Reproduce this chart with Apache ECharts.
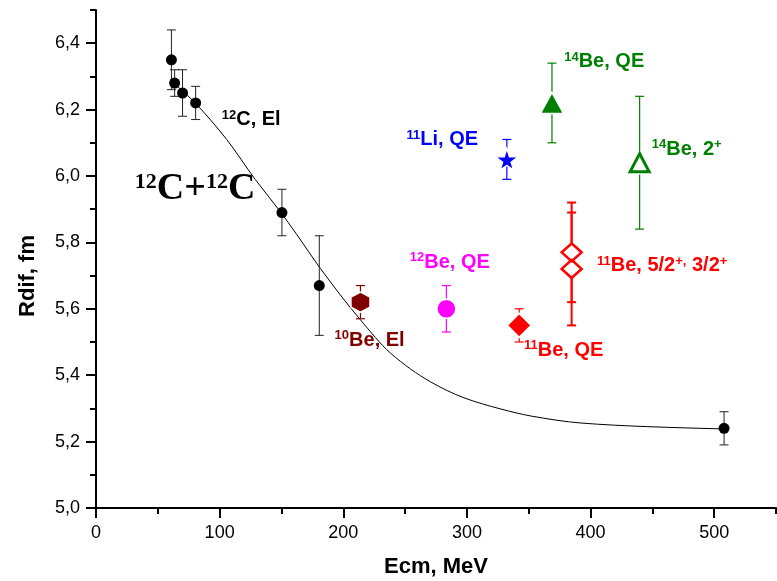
<!DOCTYPE html>
<html>
<head>
<meta charset="utf-8">
<script src="https://cdn.jsdelivr.net/npm/echarts@6/dist/echarts.min.js"></script>
<style>
  html, body { margin: 0; padding: 0; background: #fff; }
  #main { width: 777px; height: 581px; }
</style>
</head>
<body>
<div id="main"></div>
<script>
// tick labels
var xTicks = [0, 100, 200, 300, 400, 500];
var xMinor = [50, 150, 250, 350, 450, 550];
var yTicks = [5.0, 5.2, 5.4, 5.6, 5.8, 6.0, 6.2, 6.4];
var yMinor = [5.1, 5.3, 5.5, 5.7, 5.9, 6.1, 6.3, 6.5];

// 12C + 12C elastic (black points)
var c12Ecm = [61, 63.6, 70, 80.6, 150.4, 180.6, 508];
var c12Rdif = [6.35, 6.28, 6.25, 6.22, 5.89, 5.67, 5.24];
var c12Err = [0.09, 0.04, 0.07, 0.05, 0.07, 0.15, 0.05];

// fit curve
var fitEcm = [60, 78.6, 105.7, 128.7, 149, 162.5, 181.4, 213.8, 238.1, 270.6, 297.6, 327.6, 351.9, 392.2, 446.3, 508];
var fitRdif = [6.29, 6.226, 6.110, 5.990, 5.893, 5.823, 5.722, 5.567, 5.467, 5.380, 5.332, 5.298, 5.277, 5.256, 5.245, 5.238];

// other nuclei
var be10Ecm = [213.9], be10Rdif = [5.62], be10Err = [0.05];
var be12Ecm = [283.4], be12Rdif = [5.60], be12Err = [0.07];
var be11Ecm = [342.3], be11Rdif = [5.55], be11Err = [0.05];
var li11Ecm = [332.3], li11Rdif = [6.05], li11Err = [0.06];
var be14Ecm = [368.8], be14Rdif = [6.22], be14Err = [0.12];
var be14xEcm = [439.7], be14xRdif = [6.04], be14xErr = [0.20];
var be11xEcm = [384.7, 384.7], be11xRdif = [5.77, 5.72], be11xErr = [0.15, 0.17];

var sans = 'Liberation Sans, Arial, sans-serif';
var serif = 'Liberation Serif, Times New Roman, serif';

function pts(xs, ys) { return xs.map(function (x, i) { return [x, ys[i]]; }); }
function errPts(xs, ys, es) { return xs.map(function (x, i) { return [x, ys[i], es[i]]; }); }

// monotone cubic through the pixel positions of the points (like d3 curveMonotoneX)
function monotonePath(p) {
  var n = p.length, t = [], i;
  var h = [], m = [];
  for (i = 0; i < n - 1; i++) {
    h[i] = p[i + 1][0] - p[i][0];
    m[i] = (p[i + 1][1] - p[i][1]) / h[i];
  }
  for (i = 1; i < n - 1; i++) {
    if (m[i - 1] * m[i] <= 0) { t[i] = 0; continue; }
    var w1 = 2 * h[i] + h[i - 1], w2 = h[i] + 2 * h[i - 1];
    t[i] = (w1 + w2) / (w1 / m[i - 1] + w2 / m[i]);
  }
  t[0] = m[0];
  t[n - 1] = m[n - 2];
  var d = 'M' + p[0][0] + ',' + p[0][1];
  for (i = 0; i < n - 1; i++) {
    var dx = h[i] / 3;
    d += 'C' + (p[i][0] + dx) + ',' + (p[i][1] + t[i] * dx) + ' ' +
      (p[i + 1][0] - dx) + ',' + (p[i + 1][1] - t[i + 1] * dx) + ' ' +
      p[i + 1][0] + ',' + p[i + 1][1];
  }
  return d;
}

function errSeries(xs, ys, es, color, lw) {
  return {
    type: 'custom',
    z: 2,
    silent: true,
    data: errPts(xs, ys, es),
    renderItem: function (params, api) {
      var x = api.value(0), y = api.value(1), e = api.value(2);
      var top = api.coord([x, y + e]), bot = api.coord([x, y - e]);
      var w = 4.5;
      var st = { stroke: color, lineWidth: lw };
      return {
        type: 'group',
        children: [
          { type: 'line', shape: { x1: top[0], y1: top[1], x2: bot[0], y2: bot[1] }, style: st },
          { type: 'line', shape: { x1: top[0] - w, y1: top[1], x2: top[0] + w, y2: top[1] }, style: st },
          { type: 'line', shape: { x1: bot[0] - w, y1: bot[1], x2: bot[0] + w, y2: bot[1] }, style: st }
        ]
      };
    }
  };
}

function dots(xs, ys, symbol, size, color, extra, z) {
  return {
    type: 'scatter',
    z: z || 4,
    data: pts(xs, ys),
    symbol: symbol,
    symbolSize: size,
    itemStyle: Object.assign({ color: color, opacity: 1 }, extra || {})
  };
}

var hexagon = 'path://M0,-1L0.866,-0.5L0.866,0.5L0,1L-0.866,0.5L-0.866,-0.5Z';
var star = 'path://M50,0L61,35L98,35L68,57L79,91L50,70L21,91L32,57L2,35L39,35Z';
var whiteRim = { borderColor: '#fff', borderWidth: 1.5 };

var myChart = echarts.init(document.getElementById('main'));

var option = {
  animation: false,
  textStyle: { fontFamily: sans },
  grid: { left: 96, right: 1, top: 10, bottom: 73, outerBoundsMode: 'none' },
  xAxis: [
    {
      type: 'value', min: 0, max: 550, position: 'bottom',
      axisLine: { onZero: false, lineStyle: { color: '#000', width: 2 } },
      axisTick: { customValues: xTicks, length: 10, lineStyle: { color: '#000', width: 2 } },
      axisLabel: { customValues: xTicks, margin: 16, fontSize: 18, color: '#000', fontFamily: sans },
      splitLine: { show: false },
      name: 'Ecm, MeV', nameLocation: 'middle', nameGap: 48,
      nameTextStyle: { fontSize: 22, fontWeight: 'bold', color: '#000', fontFamily: sans }
    },
    {
      type: 'value', min: 0, max: 550, position: 'bottom',
      axisLine: { show: false, onZero: false },
      axisTick: { customValues: xMinor, length: 6, lineStyle: { color: '#000', width: 2 } },
      axisLabel: { show: false },
      splitLine: { show: false }
    }
  ],
  yAxis: [
    {
      type: 'value', min: 5.0, max: 6.5, position: 'left',
      axisLine: { show: true, onZero: false, lineStyle: { color: '#000', width: 2 } },
      axisTick: { show: true, customValues: yTicks, length: 10, lineStyle: { color: '#000', width: 2 } },
      axisLabel: {
        customValues: yTicks, margin: 16, fontSize: 18, color: '#000', fontFamily: sans,
        formatter: function (v) { return v.toFixed(1).replace('.', ','); }
      },
      splitLine: { show: false }
    },
    {
      type: 'value', min: 5.0, max: 6.5, position: 'left',
      axisLine: { show: false, onZero: false },
      axisTick: { show: true, customValues: yMinor, length: 6, lineStyle: { color: '#000', width: 2 } },
      axisLabel: { show: false },
      splitLine: { show: false }
    }
  ],
  series: [
    {
      // fit curve, drawn once as one smooth path
      type: 'custom',
      z: 1,
      silent: true,
      data: pts(fitEcm, fitRdif),
      renderItem: function (params, api) {
        if (params.dataIndex !== 0) return null;
        var p = fitEcm.map(function (x, i) { return api.coord([x, fitRdif[i]]); });
        return {
          type: 'path',
          shape: { pathData: monotonePath(p) },
          style: { stroke: '#000', lineWidth: 1, fill: null }
        };
      }
    },
    errSeries(c12Ecm, c12Rdif, c12Err, '#222', 1),
    dots(c12Ecm, c12Rdif, 'circle', 11, '#000'),
    errSeries(be10Ecm, be10Rdif, be10Err, '#800000', 1.2),
    dots(be10Ecm, be10Rdif, hexagon, [19, 20], '#800000', whiteRim),
    errSeries(be12Ecm, be12Rdif, be12Err, '#ff00ff', 1.2),
    dots(be12Ecm, be12Rdif, 'circle', 19, '#ff00ff', whiteRim),
    errSeries(be11Ecm, be11Rdif, be11Err, '#ff0000', 1.2),
    dots(be11Ecm, be11Rdif, 'diamond', [24, 24], '#ff0000', whiteRim),
    errSeries(li11Ecm, li11Rdif, li11Err, '#0000ff', 1.2),
    dots(li11Ecm, li11Rdif, star, [23, 22], '#0000ff', whiteRim),
    errSeries(be14Ecm, be14Rdif, be14Err, '#008000', 1.2),
    dots(be14Ecm, be14Rdif, 'triangle', [23, 21], '#008000', whiteRim),
    errSeries(be14xEcm, be14xRdif, be14xErr, '#008000', 1.2),
    dots(be14xEcm, be14xRdif, 'triangle', [25, 24], '#fff', null, 3),
    dots(be14xEcm, be14xRdif, 'triangle', [19, 18], 'none', { borderColor: '#008000', borderWidth: 3 }, 4),
    errSeries(be11xEcm, be11xRdif, be11xErr, '#ff0000', 2),
    dots(be11xEcm, be11xRdif, 'diamond', [22, 20], '#fff', null, 3),
    dots(be11xEcm, be11xRdif, 'diamond', [20, 18], 'none', { borderColor: '#ff0000', borderWidth: 2.5 }, 4)
  ]
};

myChart.setOption(option);

// annotations: text and the data point where its left-middle sits
var notes = [
  { at: [101.7, 6.170], color: '#000', text: '{s|12}{m|C, El}' },
  { at: [251.2, 6.110], color: '#0000ff', text: '{s|11}{m|Li, QE}' },
  { at: [378.7, 6.345], color: '#008000', text: '{s|14}{m|Be, QE}' },
  { at: [449.5, 6.081], color: '#008000', text: '{s|14}{m|Be, 2}{s|+}' },
  { at: [253.8, 5.741], color: '#ff00ff', text: '{s|12}{m|Be, QE}' },
  { at: [193.0, 5.506], color: '#800000', text: '{s|10}{m|Be, El}' },
  { at: [346.2, 5.475], color: '#ff0000', text: '{s|11}{m|Be, QE}' },
  { at: [405.2, 5.729], color: '#ff0000', text: '{s|11}{m|Be, 5/2}{s|+,}{m| 3/2}{s|+}' }
];

var graphics = notes.map(function (n) {
  var p = myChart.convertToPixel({ seriesIndex: 1 }, n.at);
  return {
    type: 'text', x: p[0], y: p[1], z: 10,
    style: {
      text: n.text, fill: n.color, align: 'left', verticalAlign: 'middle',
      rich: {
        s: { fontSize: 13, fontWeight: 'bold', fontFamily: sans, fill: n.color, verticalAlign: 'top', lineHeight: 22 },
        m: { fontSize: 20, fontWeight: 'bold', fontFamily: sans, fill: n.color, lineHeight: 22 }
      }
    }
  };
});

var big = myChart.convertToPixel({ seriesIndex: 1 }, [31.4, 5.960]);
graphics.push({
  type: 'text', x: big[0], y: big[1], z: 10,
  style: {
    text: '{s|12}{m|C+}{s|12}{m|C}', fill: '#000', align: 'left', verticalAlign: 'middle',
    rich: {
      s: { fontSize: 22, fontWeight: 'bold', fontFamily: serif, fill: '#000', verticalAlign: 'top', lineHeight: 36 },
      m: { fontSize: 38, fontWeight: 'bold', fontFamily: serif, fill: '#000', lineHeight: 36 }
    }
  }
});

graphics.push({
  type: 'text', x: 28, y: 276, rotation: Math.PI / 2, z: 10,
  style: {
    text: 'Rdif, fm', fill: '#000', align: 'center', verticalAlign: 'middle',
    fontSize: 22, fontWeight: 'bold', fontFamily: sans
  }
});

myChart.setOption({ graphic: graphics });
</script>
</body>
</html>
